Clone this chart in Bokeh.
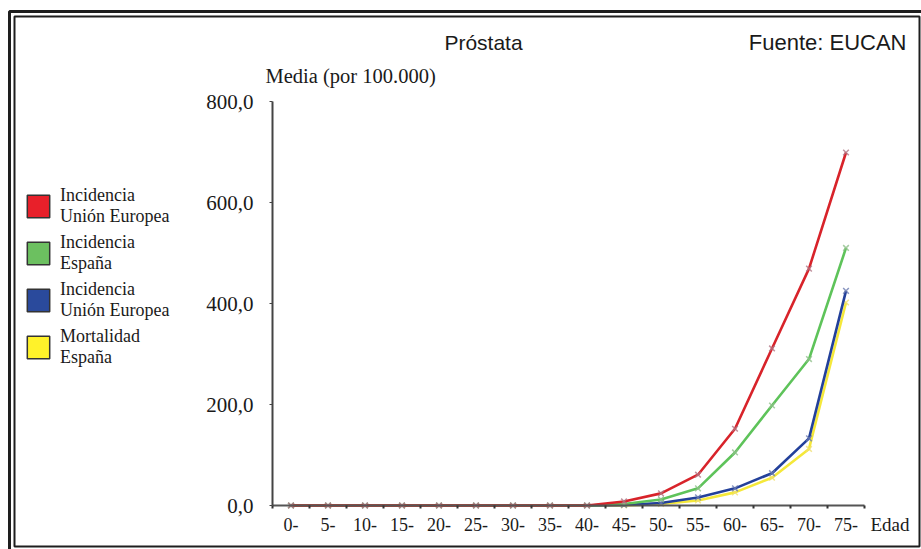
from bokeh.plotting import figure
from bokeh.models import (Range1d, FixedTicker, Label, BoxAnnotation, Legend, LegendItem,
                          ColumnDataSource, LinearAxis)
from bokeh.embed import file_html
from bokeh.resources import INLINE

# ---- data ----
categories = ["0-", "5-", "10-", "15-", "20-", "25-", "30-", "35-",
              "40-", "45-", "50-", "55-", "60-", "65-", "70-", "75-"]
inc_ue = [0, 0, 0, 0, 0, 0, 0, 0, 0, 8, 24, 61, 152, 311, 469, 699]
inc_es = [0, 0, 0, 0, 0, 0, 0, 0, 0, 3, 12, 34, 105, 198, 290, 510]
mort_ue = [0, 0, 0, 0, 0, 0, 0, 0, 0, 1, 5, 16, 34, 64, 133, 425]
mort_es = [0, 0, 0, 0, 0, 0, 0, 0, 0, 0, 3, 10, 26, 55, 112, 402]
y_ticks = [0, 200, 400, 600, 800]
y_tick_labels = ["0,0", "200,0", "400,0", "600,0", "800,0"]
series_names = ["Incidencia\nUnión Europea", "Incidencia\nEspaña",
                "Incidencia\nUnión Europea", "Mortalidad\nEspaña"]

xs = [i + 0.5 for i in range(len(categories))]
n = len(categories)

W, H = 921, 549
# plot region in pixels (layout only)
PX0, PX1, PY_TOP, PY_BOT = 272, 864, 101, 505
ymax = 800
kx = (PX1 - PX0) / n
ky = (PY_BOT - PY_TOP) / ymax
x_range = Range1d(-PX0 / kx, (W - PX0) / kx)
y_range = Range1d(-(H - PY_BOT) / ky, ymax + PY_TOP / ky)

p = figure(width=W, height=H, output_backend="svg", toolbar_location=None,
           x_range=x_range, y_range=y_range, title=None,
           x_axis_location=None, y_axis_location=None,
           min_border=0, min_border_left=0, min_border_right=0,
           min_border_top=0, min_border_bottom=0)
p.outline_line_color = None
p.grid.visible = False
p.background_fill_color = "white"
p.border_fill_color = "white"

TXT = "#1a1a1a"

# x axis: labels between boundary ticks
xa = LinearAxis(fixed_location=0, bounds=(0, n))
xa.ticker = FixedTicker(ticks=xs, minor_ticks=list(range(n + 1)))
xa.major_label_overrides = {x: c for x, c in zip(xs, categories)}
xa.major_tick_line_color = None
xa.major_tick_out = 0
xa.major_tick_in = 0
xa.minor_tick_out = 3
xa.minor_tick_in = 0
xa.minor_tick_line_color = "#333333"
xa.minor_tick_line_width = 2
xa.axis_line_color = "#555555"
xa.axis_line_width = 2
xa.major_label_standoff = 9
xa.major_label_text_font = "Liberation Serif"
xa.major_label_text_font_size = "18px"
xa.major_label_text_color = TXT
p.add_layout(xa, "below")

ya = LinearAxis(fixed_location=0, bounds=(0, ymax))
ya.ticker = FixedTicker(ticks=y_ticks)
ya.major_label_overrides = {t: l for t, l in zip(y_ticks, y_tick_labels)}
ya.minor_tick_line_color = None
ya.major_tick_out = 3
ya.major_tick_in = 0
ya.major_tick_line_color = "#444444"
ya.axis_line_color = "#444444"
ya.axis_line_width = 2
ya.major_label_standoff = 16
ya.major_label_text_font = "Liberation Serif"
ya.major_label_text_font_size = "21px"
ya.major_label_text_color = TXT
p.add_layout(ya, "left")

colors = ["#d8232a", "#5ec35a", "#23409a", "#f5e83a"]
mcolors = ["#b07585", "#8fbf8a", "#6a7ab0", "#f0e070"]
series = [inc_ue, inc_es, mort_ue, mort_es]
for i in [3, 2, 1, 0]:
    src = ColumnDataSource(dict(x=xs, y=series[i]))
    p.line("x", "y", source=src, line_color=colors[i], line_width=2.6)
    p.scatter("x", "y", source=src, marker="x", size=8, line_color=mcolors[i],
              line_width=1.5, alpha=0.8)

# legend with square swatches (renderers hold no visible data)
nan = float("nan")
leg_colors = ["#e8202a", "#6cc060", "#2a4a9c", "#fff22a"]
items = []
for name, c in zip(series_names, leg_colors):
    r = p.quad(left=[nan], right=[nan], top=[nan], bottom=[nan], fill_color=c,
               line_color="#333333", line_width=1.5)
    items.append(LegendItem(label=name, renderers=[r]))
legend = Legend(items=items, location=(24, H - 368), glyph_width=28, glyph_height=28,
                label_standoff=8, spacing=5, padding=0, margin=0,
                border_line_color=None, background_fill_alpha=0,
                label_text_font="Liberation Serif", label_text_font_size="18px",
                label_text_color=TXT,
                label_text_line_height=1.1, label_height=30)
p.add_layout(legend, "center")

# texts (screen units: from bottom-left of the canvas-filling frame)
def lab(text, x, y, font, size, align="left"):
    p.add_layout(Label(x=x, y=H - y, x_units="screen", y_units="screen", text=text,
                       text_font=font, text_font_size=size, text_align=align,
                       text_baseline="alphabetic", text_color=TXT))

lab("Próstata", 483, 42, "Liberation Sans", "21px", align="center")
lab("Fuente: EUCAN", 906, 42, "Liberation Sans", "22px", align="right")
lab("Media (por 100.000)", 265, 75, "Liberation Serif", "20.5px")
lab("Edad", 870, 524, "Liberation Serif", "19px")

# double frame
def box(l, t, r, b, w):
    p.add_layout(BoxAnnotation(left=l, right=r, top=H - t, bottom=H - b,
                               left_units="screen", right_units="screen",
                               top_units="screen", bottom_units="screen",
                               fill_alpha=0, line_color="#1e1e1e", line_alpha=1,
                               line_width=w))

box(9, 11, 960, 600, 3)
box(14, 16, 919, 546, 2)

open("out.html", "w").write(file_html(p, INLINE))
